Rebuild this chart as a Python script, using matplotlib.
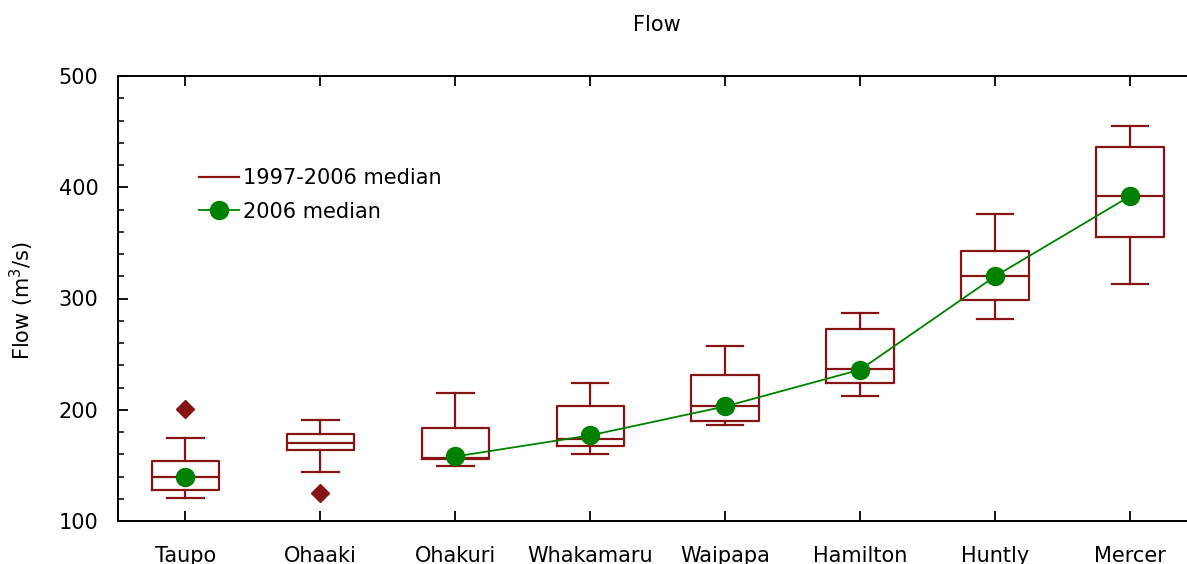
import numpy as np
import matplotlib
matplotlib.use("Agg")
import matplotlib.pyplot as plt
from matplotlib.lines import Line2D
from matplotlib.ticker import MultipleLocator

# --- data ---
sites = ["Taupo", "Ohaaki", "Ohakuri", "Whakamaru", "Waipapa", "Hamilton", "Huntly", "Mercer"]
whislo = [121, 144, 149, 160, 186, 212, 282, 313]
q1 = [128, 164, 156, 167, 190, 224, 299, 355]
med = [140, 170, 157, 174, 203, 237, 320, 392]
q3 = [154, 178, 184, 203, 231, 273, 343, 436]
whishi = [175, 191, 215, 224, 257, 287, 376, 455]
outliers = [[201], [125], [], [], [], [], [], []]
median_2006 = [140, np.nan, 158, 177, 203, 236, 320, 392]

box_col = "#861414"
green = "#008000"

stats = []
for i in range(len(sites)):
    stats.append({"whislo": whislo[i], "q1": q1[i], "med": med[i], "q3": q3[i],
                  "whishi": whishi[i], "fliers": outliers[i], "label": sites[i]})

fig = plt.figure(figsize=(11.87, 5.64), dpi=100)
ax = fig.add_axes([118 / 1187, 43 / 564, (1197.5 - 118) / 1187, 445 / 564])

pos = np.arange(len(sites))
line_kw = dict(color=box_col, linewidth=1.6)
ax.bxp(stats, positions=pos, widths=0.5, showfliers=True,
       boxprops=line_kw, medianprops=line_kw, whiskerprops=line_kw,
       capprops=line_kw, capwidths=0.27,
       flierprops=dict(marker="D", markerfacecolor=box_col, markeredgecolor=box_col,
                       markersize=9))

ax.plot(pos, median_2006, color=green, linewidth=1.3, marker="o", markersize=13,
        markerfacecolor=green, markeredgecolor=green, zorder=5)

ax.set_xlim(-0.5, 7.5)
ax.set_ylim(100, 500)
ax.set_xticks(pos)
ax.set_xticklabels(sites)
ax.yaxis.set_major_locator(MultipleLocator(100))
ax.yaxis.set_minor_locator(MultipleLocator(20))
ax.tick_params(axis="both", which="major", direction="in", length=7, width=1.3,
               labelsize=15, pad=14)
ax.tick_params(axis="x", top=True, pad=18)
ax.tick_params(axis="y", which="minor", direction="in", length=4, width=1.1)
ax.spines["right"].set_visible(False)
for s in ["left", "top", "bottom"]:
    ax.spines[s].set_linewidth(1.4)

fig.text(657 / 1187, 1 - 25 / 564, "Flow", ha="center", va="center", fontsize=15)
fig.text(22 / 1187, 1 - 300 / 564, "Flow (m$^3$/s)", ha="center", va="center",
         rotation=90, fontsize=15)

handles = [Line2D([], [], color=box_col, linewidth=1.6),
           Line2D([], [], color=green, linewidth=1.3, marker="o", markersize=13)]
ax.legend(handles, ["1997-2006 median", "2006 median"], loc="upper left",
          bbox_to_anchor=(199 / 1187, 1 - 168 / 564), bbox_transform=fig.transFigure,
          frameon=False, fontsize=15, handlelength=1.9, handletextpad=0.2,
          labelspacing=0.65, borderpad=0, borderaxespad=0)

fig.savefig("out.png", dpi=100)
